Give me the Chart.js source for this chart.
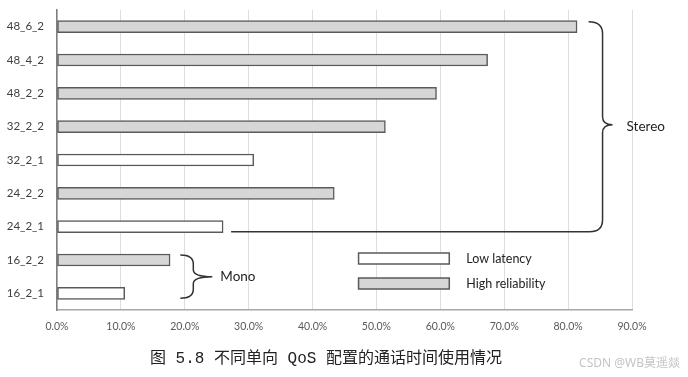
<!DOCTYPE html>
<html><head><meta charset="utf-8">
<script src="https://cdn.jsdelivr.net/npm/chart.js@4/dist/chart.umd.min.js"></script>
<style>html,body{margin:0;padding:0;background:#fff;}canvas{display:block;}</style>
</head><body>
<canvas id="c" width="688" height="377"></canvas>
<script>
const categories = ['48_6_2','48_4_2','48_2_2','32_2_2','32_2_1','24_2_2','24_2_1','16_2_2','16_2_1'];
const lowLatency = [null,null,null,null,30.8,null,26.0,null,10.6];
const highReliability = [81.4,67.4,59.4,51.4,null,43.4,null,17.7,null];
const seriesNames = ['Low latency','High reliability'];
const xTickValues = [0,10,20,30,40,50,60,70,80,90];
const groupLabels = ['Stereo','Mono'];
const caption = '图 5.8 不同单向 QoS 配置的通话时间使用情况';
const watermark = 'CSDN @WB莫遥燚';

const sans = 'Lato, "Open Sans", sans-serif';

const overlay = {
  id: 'overlay',
  afterDraw(chart) {
    const ctx = chart.ctx, xs = chart.scales.x, ys = chart.scales.y;
    ctx.save();
    ctx.strokeStyle = '#333';
    ctx.lineWidth = 1.5;
    // Stereo brace
    const sTop = ys.getPixelForValue(0) - 5;
    const sBot = ys.getPixelForValue(6) + 5;
    const sMid = (sTop + sBot) / 2 - 2;
    const sx0 = xs.getPixelForValue(83.2), sx1 = sx0 + 14, sTip = sx0 + 24;
    const lineStart = xs.getPixelForValue(lowLatency[6]) + 8;
    ctx.beginPath();
    ctx.moveTo(sx0, sTop);
    ctx.quadraticCurveTo(sx1, sTop, sx1, sTop + 12);
    ctx.lineTo(sx1, sMid - 8);
    ctx.quadraticCurveTo(sx1, sMid, sTip, sMid);
    ctx.moveTo(sTip, sMid);
    ctx.quadraticCurveTo(sx1, sMid, sx1, sMid + 8);
    ctx.lineTo(sx1, sBot - 12);
    ctx.quadraticCurveTo(sx1, sBot, sx0 + 1, sBot);
    ctx.lineTo(lineStart, sBot);
    ctx.stroke();
    ctx.fillStyle = '#222';
    ctx.font = '13.5px ' + sans;
    ctx.textAlign = 'left'; ctx.textBaseline = 'middle';
    ctx.fillText(groupLabels[0], sTip + 14, sMid + 2);
    // Mono brace
    const mTop = ys.getPixelForValue(7) - 5;
    const mBot = ys.getPixelForValue(8) + 5;
    const mMid = (mTop + mBot) / 2;
    const mx0 = xs.getPixelForValue(19.3), mx1 = mx0 + 13, mTip = mx0 + 32;
    ctx.beginPath();
    ctx.moveTo(mx0, mTop);
    ctx.quadraticCurveTo(mx1, mTop, mx1, mTop + 9);
    ctx.lineTo(mx1, mMid - 7);
    ctx.quadraticCurveTo(mx1, mMid, mTip, mMid);
    ctx.moveTo(mTip, mMid);
    ctx.quadraticCurveTo(mx1, mMid, mx1, mMid + 7);
    ctx.lineTo(mx1, mBot - 9);
    ctx.quadraticCurveTo(mx1, mBot, mx0, mBot);
    ctx.stroke();
    ctx.fillText(groupLabels[1], mTip + 8, mMid);
    // Legend
    const lx0 = xs.getPixelForValue(47.2), lx1 = xs.getPixelForValue(61.4);
    const rows = [253, 278];
    chart.data.datasets.forEach((ds, i) => {
      const y = rows[i];
      ctx.fillStyle = ds.backgroundColor;
      ctx.fillRect(lx0, y, lx1 - lx0, 11);
      ctx.strokeStyle = ds.borderColor;
      ctx.lineWidth = 1.5;
      ctx.strokeRect(lx0, y, lx1 - lx0, 11);
      ctx.fillStyle = '#222';
      ctx.font = '12.5px ' + sans;
      ctx.textAlign = 'left'; ctx.textBaseline = 'middle';
      ctx.fillText(ds.label, lx1 + 17, y + 5.5);
    });
    // Caption
    ctx.fillStyle = '#222';
    ctx.font = '16px "Liberation Mono", "Noto Sans CJK SC", serif';
    ctx.textAlign = 'left'; ctx.textBaseline = 'middle';
    ctx.fillText(caption, 150, 359);
    // Watermark
    ctx.fillStyle = '#c4c4c4';
    ctx.font = '12px "Noto Sans", "Noto Sans CJK SC", sans-serif';
    ctx.textAlign = 'right';
    ctx.fillText(watermark, 680, 364);
    ctx.restore();
  }
};

new Chart(document.getElementById('c'), {
  type: 'bar',
  data: {
    labels: categories,
    datasets: [
      { label: seriesNames[0], data: lowLatency, backgroundColor: '#ffffff', borderColor: '#5a5a5a',
        borderWidth: 1.5, borderSkipped: false, grouped: false, barThickness: 12 },
      { label: seriesNames[1], data: highReliability, backgroundColor: '#d6d6d6', borderColor: '#5a5a5a',
        borderWidth: 1.5, borderSkipped: false, grouped: false, barThickness: 12 }
    ]
  },
  options: {
    indexAxis: 'y',
    responsive: false,
    animation: false,
    devicePixelRatio: 1,
    layout: { padding: { top: 10, right: 56, left: 0, bottom: 0 } },
    plugins: { legend: { display: false }, tooltip: { enabled: false } },
    scales: {
      x: {
        min: 0, max: 90,
        afterBuildTicks: (axis) => { axis.ticks = xTickValues.map(v => ({ value: v })); },
        afterFit: (s) => { s.height = 67; s.paddingLeft = 0; s.paddingRight = 0; },
        grid: { color: '#dedede', lineWidth: 1, drawTicks: false },
        border: { color: '#a6a6a6', width: 1.5 },
        ticks: { padding: 10, color: '#595959', font: { family: sans, size: 10.5 },
                 callback: (v) => Number(v).toFixed(1) + '%' }
      },
      y: {
        afterFit: (s) => { s.width = 57; s.paddingTop = 0; s.paddingBottom = 0; },
        grid: { display: false, drawTicks: false },
        border: { color: '#7f7f7f', width: 1.5 },
        ticks: { padding: 13, color: '#404040', font: { family: sans, size: 11.5 } }
      }
    }
  },
  plugins: [overlay]
});
</script>
</body></html>
